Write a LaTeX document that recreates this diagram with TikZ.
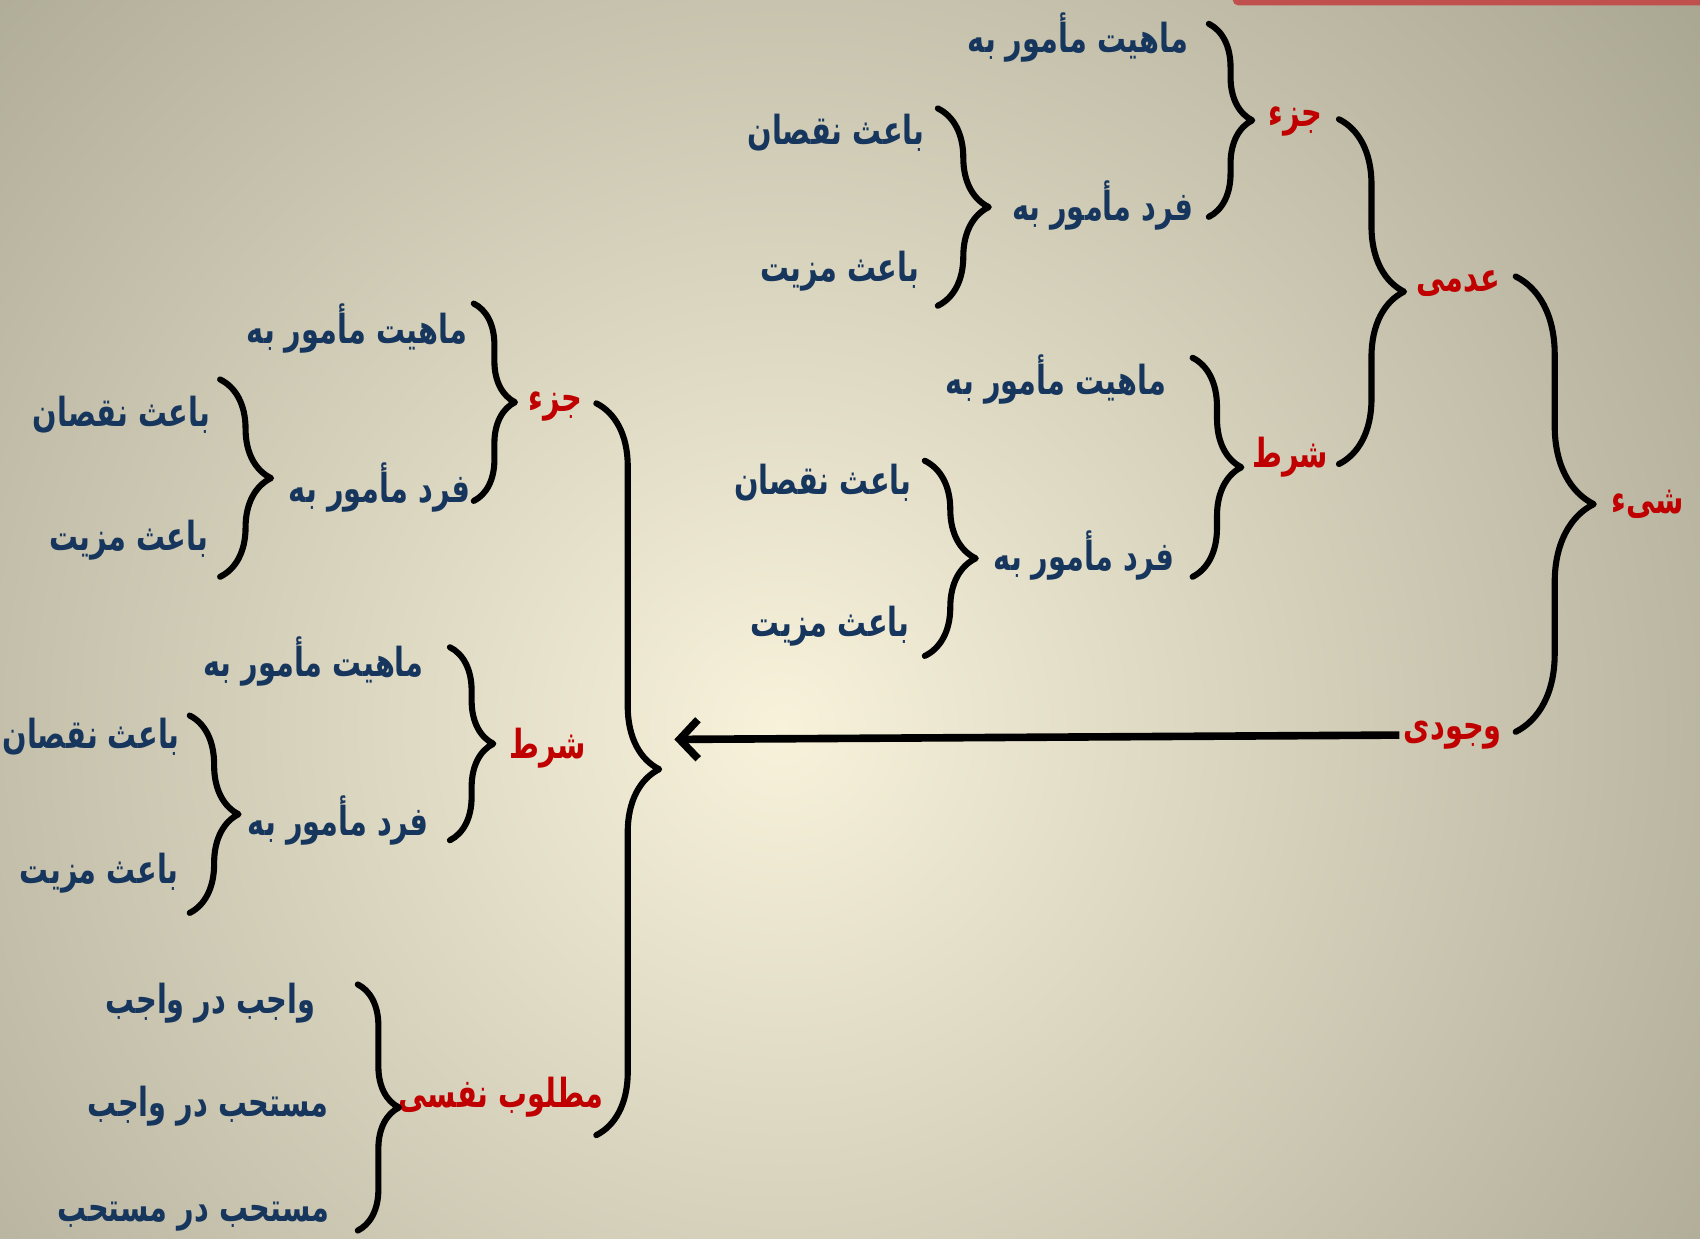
\documentclass[tikz,border=0pt]{standalone}
\usepackage{fontspec}
\usepackage{tikz}
\usetikzlibrary{arrows.meta,decorations.pathreplacing}
\newfontfamily\farsi[Script=Arabic,FakeStretch=0.72]{DejaVu Sans}
\TeXXeTstate=1
\definecolor{treeblue}{HTML}{17365D}
\definecolor{treered}{HTML}{C00000}
\definecolor{bglight}{HTML}{F8F2DB}
\definecolor{bgdark}{HTML}{A4A18D}
\definecolor{barred}{HTML}{C0504D}
\newcommand{\rtl}[1]{\beginR #1\endR}

\begin{document}
\begin{tikzpicture}[
      x=0.1mm,y=-0.1mm,
      leaf/.style={font=\farsi\bfseries\fontsize{10.5pt}{12pt}\selectfont,
        text=treeblue,inner sep=1pt,anchor=east},
      mid/.style={leaf,anchor=center},
      head/.style={leaf,anchor=center,text=treered},
      curly/.style={decorate,decoration={brace,amplitude=#1},
        line width=1.6pt,line cap=round,line join=round},
      link/.style={-{Straight Barb[length=1.7mm,width=3.6mm]},line width=2pt}
    ]
    \useasboundingbox (0,0) rectangle (1568,1142);
    \begin{scope}
      \clip (0,0) rectangle (1568,1142);
      \fill[bgdark] (0,0) rectangle (1568,1142);
      \shade[inner color=bglight,outer color=bgdark] (720,670) circle (1150);
      \fill[barred,rounded corners=0.5mm] (1137,-10) rectangle (1600,5);
    \end{scope}

    \node[head] (shey) at (1520,465) {\rtl{شیء}};
    \node[head] (adami) at (1345,262) {\rtl{عدمی}};
    \node[head] (wojudi) at (1340,678) {\rtl{وجودی}};
    \node[head] (joz1) at (1195,112) {\rtl{جزء}};
    \node[head] (shart1) at (1190,422) {\rtl{شرط}};
    \node[leaf] (mahiyat1) at (1100,35) {\rtl{ماهیت مأمور به}};
    \node[mid] (fard1) at (1017,190) {\rtl{فرد مأمور به}};
    \node[leaf] (naqs1) at (857,122) {\rtl{باعث نقصان}};
    \node[leaf] (maziyat1) at (852,250) {\rtl{باعث مزیت}};
    \node[leaf] (mahiyat2) at (1080,350) {\rtl{ماهیت مأمور به}};
    \node[mid] (fard2) at (1000,512) {\rtl{فرد مأمور به}};
    \node[leaf] (naqs2) at (845,445) {\rtl{باعث نقصان}};
    \node[leaf] (maziyat2) at (843,578) {\rtl{باعث مزیت}};

    \node[head] (joz2) at (512,375) {\rtl{جزء}};
    \node[head] (shart2) at (505,690) {\rtl{شرط}};
    \node[head] (nafsi) at (462,1012) {\rtl{مطلوب نفسی}};
    \node[leaf] (mahiyat3) at (435,303) {\rtl{ماهیت مأمور به}};
    \node[mid] (fard3) at (350,450) {\rtl{فرد مأمور به}};
    \node[leaf] (naqs3) at (198,383) {\rtl{باعث نقصان}};
    \node[leaf] (maziyat3) at (196,498) {\rtl{باعث مزیت}};
    \node[leaf] (mahiyat4) at (395,610) {\rtl{ماهیت مأمور به}};
    \node[mid] (fard4) at (312,757) {\rtl{فرد مأمور به}};
    \node[leaf] (naqs4) at (170,680) {\rtl{باعث نقصان}};
    \node[leaf] (maziyat4) at (169,805) {\rtl{باعث مزیت}};
    \node[leaf] (vajib) at (295,925) {\rtl{واجب در واجب}};
    \node[leaf] (mustahab1) at (307,1020) {\rtl{مستحب در واجب}};
    \node[leaf] (mustahab2) at (308,1122) {\rtl{مستحب در مستحب}};

    \coordinate (shey-t) at (1398,255);   \coordinate (shey-b) at (1398,675);
    \coordinate (adami-t) at (1235,110);  \coordinate (adami-b) at (1235,428);
    \coordinate (joz1-t) at (1115,22);    \coordinate (joz1-b) at (1115,200);
    \coordinate (fard1-t) at (865,100);   \coordinate (fard1-b) at (865,282);
    \coordinate (shart1-t) at (1100,330); \coordinate (shart1-b) at (1100,532);
    \coordinate (fard2-t) at (853,425);   \coordinate (fard2-b) at (853,605);
    \coordinate (in-t) at (550,372);      \coordinate (in-b) at (550,1047);
    \coordinate (joz2-t) at (437,280);    \coordinate (joz2-b) at (437,462);
    \coordinate (fard3-t) at (203,350);   \coordinate (fard3-b) at (203,532);
    \coordinate (shart2-t) at (415,597);  \coordinate (shart2-b) at (415,775);
    \coordinate (fard4-t) at (175,660);   \coordinate (fard4-b) at (175,842);
    \coordinate (nafsi-t) at (330,908);   \coordinate (nafsi-b) at (330,1135);
    \coordinate (in) at (622,682);

    \draw[curly=7.2mm] (shey-t) -- (shey-b);
    \draw[curly=6mm] (adami-t) -- (adami-b);
    \draw[curly=4mm] (joz1-t) -- (joz1-b);
    \draw[curly=4.7mm] (fard1-t) -- (fard1-b);
    \draw[curly=4.5mm] (shart1-t) -- (shart1-b);
    \draw[curly=4.7mm] (fard2-t) -- (fard2-b);
    \draw[curly=5.8mm] (in-t) -- (in-b);
    \draw[curly=3.8mm] (joz2-t) -- (joz2-b);
    \draw[curly=4.7mm] (fard3-t) -- (fard3-b);
    \draw[curly=4mm] (shart2-t) -- (shart2-b);
    \draw[curly=4.5mm] (fard4-t) -- (fard4-b);
    \draw[curly=3.8mm] (nafsi-t) -- (nafsi-b);
    \draw[link] (wojudi.west) -- (in);
  \end{tikzpicture}
\end{document}
